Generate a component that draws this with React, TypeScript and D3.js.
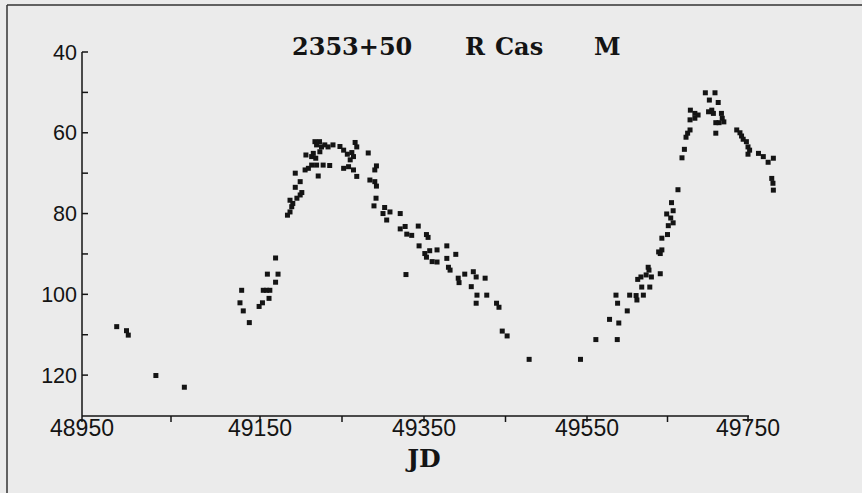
import React from "react";
import * as d3 from "d3";

// Light curve of R Cas (JD - 2400000, visual magnitude x10)
const jd: number[] = [
  48989, 49000, 49002, 49033, 49065,
  49127.5, 49129.4, 49131.2, 49138, 49149, 49153, 49154, 49158, 49162, 49161, 49159, 49169, 49172, 49169,
  49183.5, 49186.6, 49188.7, 49190, 49186.6, 49195, 49199, 49201, 49193, 49199, 49193, 49205, 49209, 49213,
  49219, 49221, 49227, 49235, 49206, 49213, 49215, 49217, 49222.6, 49219, 49225, 49229, 49233, 49223, 49218,
  49239, 49247.5, 49252, 49266, 49268, 49262, 49256.5, 49264, 49260, 49252, 49258, 49264, 49268,
  49282, 49292, 49290, 49284, 49290, 49292, 49291.5, 49289, 49302, 49300, 49308.5, 49304.5, 49321, 49321,
  49327, 49329, 49335, 49343, 49353, 49355, 49344, 49351, 49357, 49366, 49353, 49360, 49366, 49378, 49389,
  49378, 49380, 49382, 49328, 49392, 49393, 49400, 49410.5, 49414, 49425, 49408, 49415, 49427, 49414, 49439,
  49442, 49446, 49452, 49479, 49542,
  49561, 49578, 49589.5, 49587.6, 49586, 49588, 49600, 49603, 49611, 49612, 49620, 49618, 49628, 49613,
  49617, 49623.5, 49627, 49630, 49626, 49641, 49641, 49643, 49639, 49643, 49650, 49651, 49654, 49649,
  49657, 49655, 49657, 49663, 49668, 49671, 49673, 49675, 49678, 49678, 49684, 49678.4, 49684, 49688,
  49697, 49709, 49702, 49713, 49701, 49705, 49707, 49717, 49718, 49720, 49714, 49710, 49710,
  49736, 49740, 49742, 49744, 49748, 49750, 49752, 49750, 49763, 49769, 49775, 49781.5, 49779.5, 49781, 49781.5,
];
const mag: number[] = [
  108.0, 109.0, 110.1, 120.1, 123.0,
  102.1, 99.0, 104.1, 107.0, 103.0, 102.1, 99.0, 99.0, 99.0, 101.0, 95.0, 91.0, 95.0, 97.0,
  80.4, 79.6, 78.3, 77.5, 76.7, 76.2, 75.4, 74.8, 73.5, 72.1, 70.0, 69.2, 68.8, 68.0,
  68.0, 70.7, 68.0, 68.1, 65.5, 65.9, 65.1, 62.2, 62.2, 63.0, 63.5, 63.0, 63.5, 64.7, 66.3,
  63.0, 63.4, 64.3, 62.4, 63.5, 64.9, 65.3, 65.9, 66.7, 68.8, 68.4, 69.2, 70.8,
  65.0, 68.2, 69.2, 71.7, 72.1, 73.2, 76.2, 78.1, 78.5, 80.0, 79.6, 81.6, 80.0, 83.8,
  83.2, 85.1, 85.4, 83.1, 85.2, 85.9, 88.0, 89.9, 89.2, 89.0, 90.8, 91.9, 92.0, 88.0, 90.1,
  91.1, 93.3, 94.0, 95.1, 96.0, 97.1, 95.0, 94.4, 95.7, 96.0, 98.1, 100.2, 100.2, 102.2, 102.2,
  103.2, 109.1, 110.3, 116.1, 116.1,
  111.2, 106.2, 107.1, 111.2, 100.2, 102.2, 104.1, 100.2, 100.3, 101.4, 100.2, 98.2, 98.2, 96.3,
  95.7, 95.2, 94.0, 95.7, 93.3, 94.9, 89.9, 89.0, 89.5, 86.1, 85.2, 83.0, 81.1, 80.1,
  79.3, 77.3, 82.3, 74.1, 66.2, 64.1, 61.1, 60.1, 59.3, 56.8, 56.4, 54.4, 55.2, 55.6,
  50.1, 50.1, 51.9, 52.5, 54.8, 54.4, 55.2, 55.2, 56.4, 57.3, 57.5, 57.5, 60.1,
  59.3, 60.0, 60.8, 61.6, 62.2, 63.5, 64.3, 65.3, 65.1, 65.9, 67.3, 66.3, 71.3, 72.5, 74.2,
];

const xTicks: number[] = [48950, 49150, 49350, 49550, 49750];
const xMinor: number[] = [49050, 49250, 49450, 49650];
const yTicks: number[] = [40, 60, 80, 100, 120];
const yMinor: number[] = [50, 70, 90, 110];
const titleWords: string[] = ["2353+50", "R", "Cas", "M"];
const xLabel = "JD";

export default function App() {
  const W = 862, H = 493;
  // scanned axis is slightly non-uniform: piecewise linear scale
  const x = d3.scaleLinear().domain(xTicks).range([82, 260, 424, 587, 748]);
  const y = d3.scaleLinear().domain([40, 130]).range([52, 415.5]);
  const x0 = 82, yBottom = 416;
  const ink = "#141414";
  const titleX = [292, 465, 495, 594];
  const pts = jd.map((d, i) => [d, mag[i]]);
  const sans = "'Liberation Sans', Arial, sans-serif";
  const serif = "'DejaVu Serif', serif";
  return (
    <svg width={W} height={H} style={{ position: "absolute", left: 0, top: 0, background: "#ebebeb" }}>
      <rect x={0} y={0} width={W} height={H} fill="#ebebeb" />
      {/* scan frame */}
      <line x1={7} y1={5} x2={W} y2={5} stroke="#333" strokeWidth={1.5} />
      <line x1={7} y1={5} x2={7} y2={H} stroke="#333" strokeWidth={1.5} />
      {/* title */}
      {titleWords.map((w, i) => (
        <text key={w} x={titleX[i]} y={55} fontFamily={serif} fontWeight="bold" fontSize={24} fill={ink}>
          {w}
        </text>
      ))}
      {/* y axis */}
      <line x1={x0} y1={y(40)} x2={x0} y2={yBottom} stroke={ink} strokeWidth={1.5} />
      {yTicks.map((t) => (
        <g key={"yt" + t}>
          <line x1={x0} x2={x0 + 6} y1={y(t)} y2={y(t)} stroke={ink} strokeWidth={1.5} />
          <text x={77} y={y(t) + 7.5} textAnchor="end" fontFamily={sans} fontSize={21.5} fill={ink}>
            {t}
          </text>
        </g>
      ))}
      {yMinor.map((t) => (
        <line key={"ym" + t} x1={x0} x2={x0 + 6} y1={y(t)} y2={y(t)} stroke={ink} strokeWidth={1.5} />
      ))}
      {/* x axis */}
      <line x1={x0} y1={yBottom} x2={x(49750) + 1} y2={yBottom} stroke={ink} strokeWidth={1.5} />
      {xTicks.map((t) => (
        <g key={"xt" + t}>
          <line x1={x(t)} x2={x(t)} y1={yBottom} y2={yBottom + 6} stroke={ink} strokeWidth={1.5} />
          <text x={x(t)} y={436} textAnchor="middle" fontFamily={sans} fontSize={23} fill={ink}>
            {t}
          </text>
        </g>
      ))}
      {xMinor.map((t) => (
        <line key={"xm" + t} x1={x(t)} x2={x(t)} y1={yBottom} y2={yBottom + 6} stroke={ink} strokeWidth={1.5} />
      ))}
      <text x={x(49350)} y={467} textAnchor="middle" fontFamily={serif} fontWeight="bold" fontSize={25} fill={ink}>
        {xLabel}
      </text>
      {/* data points */}
      {pts.map((p, i) => (
        <rect key={i} x={x(p[0]) - 2.5} y={y(p[1]) - 2.5} width={5} height={5} fill={ink} />
      ))}
    </svg>
  );
}
